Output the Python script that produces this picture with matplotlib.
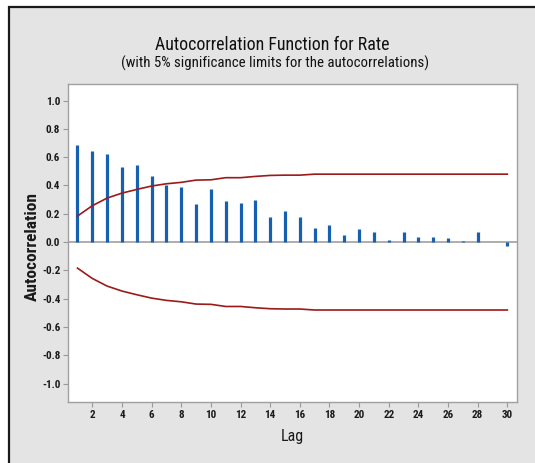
import matplotlib
matplotlib.use("Agg")
import matplotlib.pyplot as plt
from matplotlib.patches import Rectangle
import numpy as np

lags = list(range(1, 31))
acf = [0.683, 0.643, 0.622, 0.530, 0.547, 0.464, 0.405, 0.389, 0.269, 0.372,
       0.287, 0.278, 0.297, 0.177, 0.219, 0.177, 0.099, 0.120, 0.049, 0.092,
       0.068, 0.016, 0.068, 0.035, 0.035, 0.028, 0.009, 0.068, 0.0, -0.026]
upper = [0.184, 0.257, 0.311, 0.346, 0.372, 0.396, 0.412, 0.422, 0.438, 0.440,
         0.455, 0.455, 0.464, 0.471, 0.473, 0.473, 0.480, 0.480, 0.480, 0.480,
         0.480, 0.480, 0.480, 0.480, 0.480, 0.480, 0.480, 0.480, 0.480, 0.480]
lower = [-u for u in upper]
yticks = [1.0, 0.8, 0.6, 0.4, 0.2, 0.0, -0.2, -0.4, -0.6, -0.8, -1.0]
xticks = list(range(2, 31, 2))

plt.rcParams['font.family'] = ['Roboto Condensed', 'Roboto', 'DejaVu Sans']

W, H = 535, 463
fig = plt.figure(figsize=(W / 100, H / 100), dpi=100, facecolor='white')
bg = Rectangle((8.5 / W, -0.05), 1.1, (H - 6.5) / H + 0.05, transform=fig.transFigure,
               facecolor='#e4e4e4', edgecolor='#1a1a1a', linewidth=1.6, zorder=-10)
fig.patches.append(bg)

ax = fig.add_axes([68 / W, (H - 402) / H, 449 / W, 318 / H])
ax.set_facecolor('white')
ax.set_xlim(0.36, 30.65)
ax.set_ylim(-1.13, 1.117)

ax.axhline(0, color='#a0a0a0', linewidth=1.2, zorder=1)
ax.vlines(lags, 0, acf, color='#1560b0', linewidth=2.3, zorder=3)
ax.plot(lags, upper, color='#9b1a1a', linewidth=1.2, zorder=4)
ax.plot(lags, lower, color='#9b1a1a', linewidth=1.2, zorder=4)

ax.set_yticks(yticks)
ax.set_yticklabels([f"{v:.1f}" for v in yticks])
ax.set_xticks(xticks)
ax.set_xticklabels([str(v) for v in xticks])
ax.tick_params(axis='both', colors='#999999', labelcolor='#1a1a1a', length=3.5,
               width=0.8, labelsize=8.0, pad=2)
for lbl in ax.get_xticklabels() + ax.get_yticklabels():
    lbl.set_fontweight('bold')
for s in ax.spines.values():
    s.set_color('#a0a0a0')
    s.set_linewidth(1.0)

ax.set_xlabel('Lag', fontsize=11.5, labelpad=7, color='#1a1a1a')
ax.set_ylabel('Autocorrelation', fontsize=12.5, fontweight='bold', color='#1a1a1a')
ax.yaxis.set_label_coords((40 - 68) / 449, 0.49)

fig.text(272 / W, 1 - 45 / H, 'Autocorrelation Function for Rate',
         ha='center', va='center', fontsize=12.9, color='#111111')
fig.text(275 / W, 1 - 63 / H, '(with 5% significance limits for the autocorrelations)',
         ha='center', va='center', fontsize=10.7, color='#111111')

fig.savefig('out.png', dpi=100, facecolor=fig.get_facecolor())
